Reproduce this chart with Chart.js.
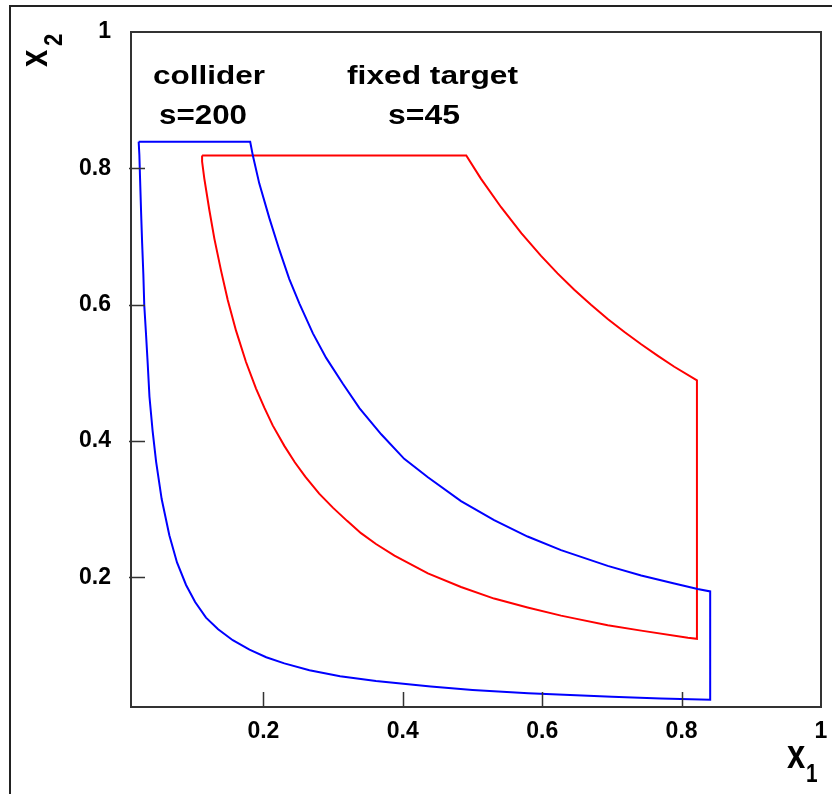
<!DOCTYPE html>
<html>
<head>
<meta charset="utf-8">
<script src="https://cdn.jsdelivr.net/npm/chart.js@4/dist/chart.umd.min.js"></script>
<style>
    html, body { margin: 0; padding: 0; background: #fff; }
    canvas { display: block; }
</style>
</head>
<body>
<canvas id="xChart" width="832" height="794"></canvas>
<script>
// Tick positions and labels (same for both axes)
const xTicks = [0.2, 0.4, 0.6, 0.8, 1];
const yTicks = [0.2, 0.4, 0.6, 0.8, 1];
const tickLabels = ['0.2', '0.4', '0.6', '0.8', '1'];

// Collider, s=200 : outline (x1, x2)
const colliderX = [0.021, 0.181, 0.185, 0.194, 0.2085, 0.223, 0.237, 0.2515, 0.271, 0.290, 0.314,
    0.338, 0.369, 0.402, 0.436, 0.4835, 0.531, 0.579, 0.627, 0.694, 0.742, 0.7895,
    0.823, 0.841, 0.841, 0.77, 0.70, 0.64, 0.58, 0.50, 0.44, 0.3615, 0.31, 0.266, 0.23, 0.204,
    0.18, 0.156, 0.135, 0.1176, 0.102, 0.089, 0.076, 0.065, 0.054, 0.046, 0.041, 0.0365, 0.034,
    0.0316, 0.029, 0.0277, 0.026, 0.0245, 0.023, 0.022, 0.021];
const colliderY = [0.839, 0.839, 0.818, 0.778, 0.727, 0.680, 0.638, 0.602, 0.558, 0.522, 0.484,
    0.448, 0.410, 0.374, 0.347, 0.312, 0.284, 0.260, 0.240, 0.217, 0.203, 0.191,
    0.183, 0.1795, 0.0205, 0.0225, 0.025, 0.0275, 0.030, 0.035, 0.040, 0.048, 0.055, 0.064, 0.074,
    0.083, 0.094, 0.108, 0.124, 0.141, 0.164, 0.189, 0.222, 0.262, 0.315, 0.370, 0.415, 0.465,
    0.513, 0.556, 0.600, 0.645, 0.690, 0.735, 0.785, 0.820, 0.839];

// Fixed target, s=45
const fixedX = [0.112, 0.491, 0.512, 0.541, 0.570, 0.598, 0.622, 0.646, 0.670, 0.694, 0.718, 0.742,
    0.766, 0.7895, 0.822, 0.822, 0.809, 0.742, 0.694, 0.646, 0.627, 0.579, 0.531, 0.4835, 0.436,
    0.388, 0.3615, 0.340, 0.32, 0.30, 0.28, 0.26, 0.245, 0.23, 0.2133, 0.2013, 0.1894, 0.175,
    0.1607, 0.1488, 0.1392, 0.1296, 0.1224, 0.1152, 0.112, 0.112];
const fixedY = [0.819, 0.819, 0.785, 0.743, 0.705, 0.672, 0.646, 0.622, 0.600, 0.579, 0.560,
    0.542, 0.525, 0.509, 0.489, 0.110, 0.1115, 0.122, 0.130, 0.140, 0.144, 0.156, 0.169,
    0.186, 0.206, 0.232, 0.249, 0.265, 0.283, 0.302, 0.323, 0.348, 0.369, 0.393, 0.423, 0.449,
    0.477, 0.516, 0.562, 0.607, 0.650, 0.697, 0.739, 0.785, 0.810, 0.819];

// Annotation texts
const noteTexts = ['collider', 's=200', 'fixed target', 's=45'];

const toPoints = (xs, ys) => xs.map((x, i) => ({ x: x, y: ys[i] }));
const labelFor = (v) => {
    const i = xTicks.indexOf(v);
    return i >= 0 ? tickLabels[i] : '';
};

const FONT = "'Liberation Sans', Arial, Helvetica, sans-serif";
const INK = '#333';

// draws the frames, inward tick marks, text notes and the axis titles
const framePlugin = {
    id: 'framePlugin',
    beforeDraw(chart) {
        const ctx = chart.ctx;
        ctx.save();
        ctx.fillStyle = '#fff';
        ctx.fillRect(0, 0, chart.width, chart.height);
        ctx.strokeStyle = '#222';
        ctx.lineWidth = 2;
        ctx.beginPath();
        ctx.moveTo(10, chart.height);
        ctx.lineTo(10, 6);
        ctx.lineTo(chart.width, 6);
        ctx.stroke();
        ctx.restore();
    },
    afterDraw(chart) {
        const ctx = chart.ctx;
        const a = chart.chartArea;
        const xs = chart.scales.x, ys = chart.scales.y;
        ctx.save();
        ctx.strokeStyle = INK;
        ctx.lineWidth = 2;
        ctx.strokeRect(a.left, a.top, a.right - a.left, a.bottom - a.top);

        ctx.lineWidth = 1.5;
        ctx.beginPath();
        xTicks.filter(v => v < 1).forEach(v => {
            const px = Math.round(xs.getPixelForValue(v)) + 0.5;
            ctx.moveTo(px, a.bottom);
            ctx.lineTo(px, a.bottom - 15);
        });
        yTicks.filter(v => v < 1).forEach(v => {
            const py = Math.round(ys.getPixelForValue(v)) + 0.5;
            ctx.moveTo(a.left - 2, py);
            ctx.lineTo(a.left + 14, py);
        });
        ctx.stroke();

        // text notes, fitted to the box they fill in the picture
        const boxes = [[153, 84, 112, 26], [159, 124, 88, 27], [347, 84, 171, 26], [388, 124, 72, 27]];
        ctx.fillStyle = '#000';
        ctx.textBaseline = 'alphabetic';
        noteTexts.forEach((t, i) => {
            const b = boxes[i];
            ctx.font = 'bold ' + b[3] + 'px ' + FONT;
            const w = ctx.measureText(t).width;
            ctx.save();
            ctx.translate(b[0], b[1]);
            ctx.scale(b[2] / w, 1);
            ctx.fillText(t, 0, 0);
            ctx.restore();
        });

        // axis titles x1 / x2
        ctx.save();
        ctx.translate(787, 768);
        ctx.scale(0.82, 1);
        ctx.font = 'bold 40px ' + FONT;
        ctx.fillText('x', 0, 0);
        ctx.restore();
        ctx.font = 'bold 26px ' + FONT;
        ctx.save();
        ctx.translate(806, 782);
        ctx.scale(0.8, 1);
        ctx.fillText('1', 0, 0);
        ctx.restore();

        ctx.save();
        ctx.translate(47, 67);
        ctx.rotate(-Math.PI / 2);
        ctx.save();
        ctx.scale(0.82, 1);
        ctx.font = 'bold 38px ' + FONT;
        ctx.fillText('x', 0, 0);
        ctx.restore();
        ctx.translate(21, 15);
        ctx.scale(0.85, 1);
        ctx.font = 'bold 26px ' + FONT;
        ctx.fillText('2', 0, 0);
        ctx.restore();

        ctx.restore();
    }
};

document.addEventListener('DOMContentLoaded', () => {
    const ctx = document.getElementById('xChart');
    const tickFont = { family: FONT, size: 23, weight: 'bold' };

    new Chart(ctx, {
        type: 'scatter',
        data: {
            datasets: [{
                label: 'collider s=200',
                data: toPoints(colliderX, colliderY),
                borderColor: '#0000ff',
                backgroundColor: '#0000ff',
                borderWidth: 2,
                showLine: true,
                pointRadius: 0,
                tension: 0,
                fill: false
            }, {
                label: 'fixed target s=45',
                data: toPoints(fixedX, fixedY),
                borderColor: '#ff0000',
                backgroundColor: '#ff0000',
                borderWidth: 2,
                showLine: true,
                pointRadius: 0,
                tension: 0,
                fill: false
            }]
        },
        options: {
            responsive: false,
            animation: false,
            devicePixelRatio: 1,
            layout: { padding: { top: 32, right: 11, left: 0, bottom: 0 } },
            plugins: {
                legend: { display: false },
                tooltip: { enabled: false }
            },
            scales: {
                x: {
                    type: 'linear',
                    min: 0.01,
                    max: 1,
                    afterBuildTicks: (s) => { s.ticks = xTicks.map(v => ({ value: v })); },
                    afterFit: (s) => { s.height = 87; },
                    grid: { display: false },
                    border: { display: false },
                    ticks: {
                        callback: labelFor,
                        color: '#000',
                        font: tickFont,
                        padding: 3,
                        maxRotation: 0,
                        autoSkip: false
                    }
                },
                y: {
                    type: 'linear',
                    min: 0.01,
                    max: 1,
                    afterBuildTicks: (s) => { s.ticks = yTicks.map(v => ({ value: v })); },
                    afterFit: (s) => { s.width = 131; },
                    grid: { display: false },
                    border: { display: false },
                    ticks: {
                        callback: labelFor,
                        color: '#000',
                        font: tickFont,
                        padding: 12,
                        autoSkip: false
                    }
                }
            }
        },
        plugins: [framePlugin]
    });
});
</script>
</body>
</html>
